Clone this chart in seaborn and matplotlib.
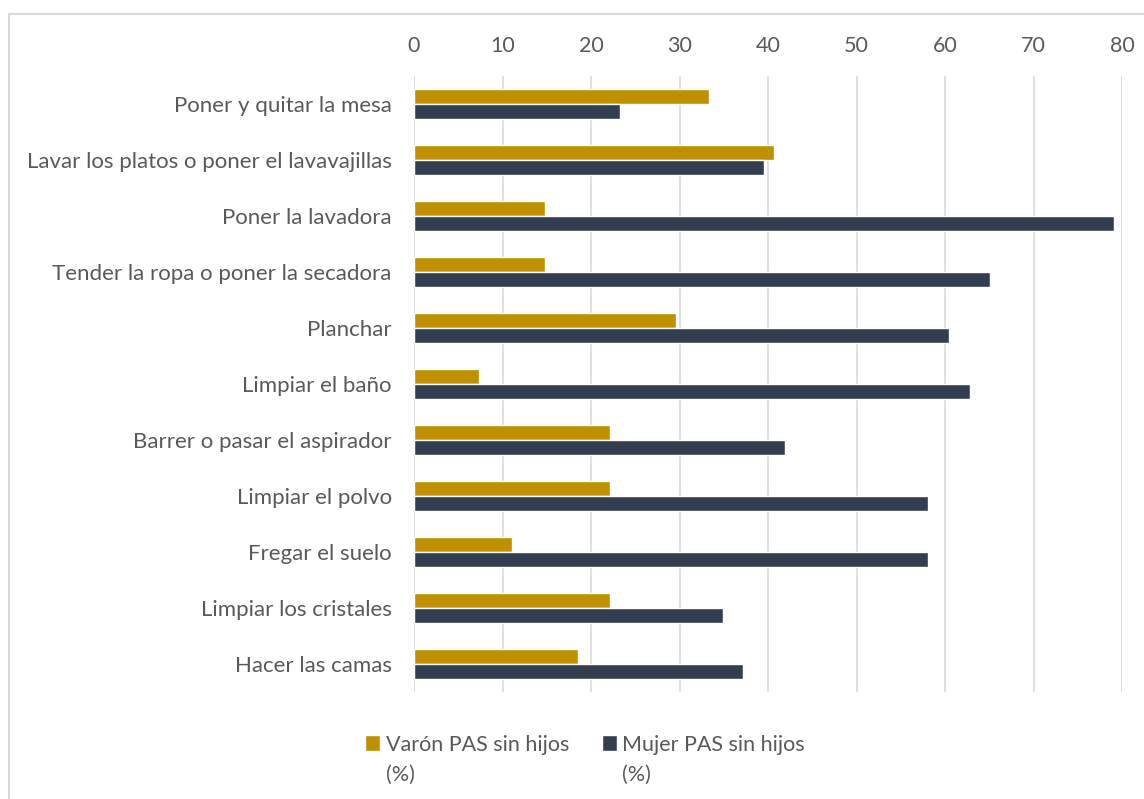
import matplotlib
matplotlib.use("Agg")
import matplotlib.pyplot as plt
from matplotlib.patches import Rectangle
import seaborn as sns
import pandas as pd

tareas = [
    "Poner y quitar la mesa",
    "Lavar los platos o poner el lavavajillas",
    "Poner la lavadora",
    "Tender la ropa o poner la secadora",
    "Planchar",
    "Limpiar el baño",
    "Barrer o pasar el aspirador",
    "Limpiar el polvo",
    "Fregar el suelo",
    "Limpiar los cristales",
    "Hacer las camas",
]
series = ["Varón PAS sin hijos\n(%)", "Mujer PAS sin hijos\n(%)"]
varon = [33.3, 40.7, 14.8, 14.8, 29.6, 7.4, 22.2, 22.2, 11.1, 22.2, 18.5]
mujer = [23.3, 39.5, 79.1, 65.1, 60.5, 62.8, 41.9, 58.1, 58.1, 34.9, 37.2]
x_ticks = [0, 10, 20, 30, 40, 50, 60, 70, 80]

colores = ["#BF9000", "#333F50"]
texto = "#595959"
rejilla = "#D9D9D9"

df = pd.DataFrame({
    "tarea": tareas * 2,
    "serie": [series[0]] * len(tareas) + [series[1]] * len(tareas),
    "valor": varon + mujer,
})

sns.set_theme(style="white")
plt.rcParams["font.family"] = ["Lato", "DejaVu Sans"]

W, H = 1144, 799
fig = plt.figure(figsize=(W / 100, H / 100), dpi=100)
ax = fig.add_axes([414 / W, 1 - 692 / H, (1122 - 414) / W, 616 / H])

sns.barplot(data=df, y="tarea", x="valor", hue="serie", order=tareas,
            hue_order=series, palette=colores, orient="h", width=0.52,
            saturation=1, ax=ax, zorder=3)

ax.set_xlim(0, 80)
ax.set_xticks(x_ticks)
ax.xaxis.tick_top()
ax.grid(axis="x", color=rejilla, linewidth=1.2, zorder=0)
ax.grid(axis="y", visible=False)
ax.tick_params(axis="both", length=0, labelcolor=texto)
ax.tick_params(axis="x", labelsize=15.5, pad=14.5)
ax.tick_params(axis="y", labelsize=16, pad=16)
ax.set_xlabel("")
ax.set_ylabel("")
for s in ax.spines.values():
    s.set_visible(False)

handles, labels = ax.get_legend_handles_labels()
ax.get_legend().remove()
leg = fig.legend(handles, labels, ncol=2, loc="upper center",
                 bbox_to_anchor=(585 / W, 1 - 716 / H), frameon=False,
                 fontsize=15.5, labelcolor=texto, handlelength=0.72,
                 handleheight=0.72, handletextpad=0.25, columnspacing=1.5)
for t in leg.get_texts():
    t.set_linespacing(1.6)
for col in leg._legend_handle_box.get_children():
    for fila in col.get_children():
        fila.align = "top"

# light frame around the chart area
fig.patches.append(Rectangle((9 / W, -0.05), 1.2, 1 - 14 / H + 0.05,
                             transform=fig.transFigure, fill=False,
                             edgecolor="#D9D9D9", linewidth=1.5))

fig.savefig("out.png", dpi=100)
